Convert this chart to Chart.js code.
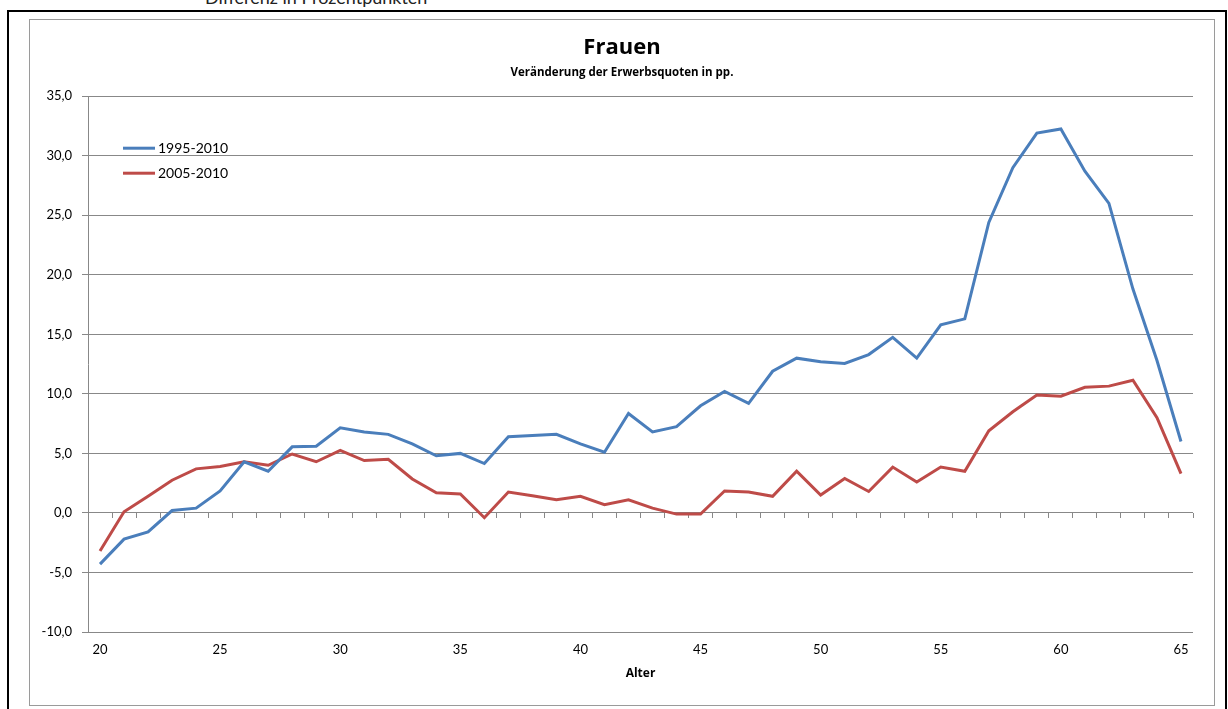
<!DOCTYPE html>
<html>
<head>
<meta charset="utf-8">
<script src="https://cdn.jsdelivr.net/npm/chart.js@4.4.1/dist/chart.umd.min.js"></script>
<style>
  html, body { margin: 0; padding: 0; background: #fff; overflow: hidden; }
  body { width: 1228px; height: 709px; position: relative; font-family: Lato, sans-serif; }
  #kopf { position: absolute; left: 205px; top: -12px; font-size: 18px; line-height: 18px; color: #222; white-space: nowrap; }
  #rahmen { position: absolute; left: 7px; top: 10px; width: 1216px; height: 760px; border: 2px solid #000; }
  #diagrammrahmen { position: absolute; left: 29px; top: 19px; width: 1184px; height: 685px; border: 1px solid #9a9a9a; }
  #box { position: absolute; left: 30px; top: 20px; width: 1184px; height: 685px; }
</style>
</head>
<body>
<div id="kopf">Differenz in Prozentpunkten</div>
<div id="rahmen"></div>
<div id="diagrammrahmen"></div>
<div id="box"><canvas id="chart"></canvas></div>
<script>
// Alter (Kategorien)
const alter = [20, 21, 22, 23, 24, 25, 26, 27, 28, 29, 30, 31, 32, 33, 34, 35,
  36, 37, 38, 39, 40, 41, 42, 43, 44, 45, 46, 47, 48, 49, 50, 51, 52, 53, 54, 55,
  56, 57, 58, 59, 60, 61, 62, 63, 64, 65];

// Veränderung 1995-2010
const werte1995 = [-4.3, -2.2, -1.6, 0.2, 0.4, 1.85, 4.3, 3.5, 5.55, 5.6, 7.15,
  6.8, 6.6, 5.8, 4.8, 5.0, 4.15, 6.4, 6.5, 6.6, 5.8, 5.1, 8.35, 6.8, 7.25, 9.0,
  10.2, 9.2, 11.9, 13.0, 12.7, 12.55, 13.3, 14.75, 13.0, 15.8, 16.3, 24.4, 29.0,
  31.9, 32.25, 28.7, 26.0, 18.8, 12.8, 6.0];

// Veränderung 2005-2010
const werte2005 = [-3.2, 0.1, 1.4, 2.75, 3.7, 3.9, 4.3, 4.0, 4.95, 4.3, 5.25,
  4.4, 4.5, 2.85, 1.7, 1.6, -0.4, 1.75, 1.45, 1.1, 1.4, 0.7, 1.1, 0.4, -0.1, -0.1,
  1.85, 1.75, 1.4, 3.5, 1.5, 2.9, 1.8, 3.85, 2.6, 3.85, 3.5, 6.9, 8.5, 9.9, 9.8,
  10.55, 10.65, 11.15, 8.0, 3.3];

const yMin = -10;
const yMax = 35;
const yStep = 5;

const gitterFarbe = "#888888";
const schrift = "Lato, sans-serif";
const titelSchrift = "'Open Sans', sans-serif";

// Legende innerhalb der Zeichenfläche (wie im Excel-Original)
const innenLegende = {
  id: "innenLegende",
  afterDraw(chart) {
    const ctx = chart.ctx;
    const area = chart.chartArea;
    chart.data.datasets.forEach(function (ds, i) {
      const y = area.top + 52 + i * 25;
      ctx.save();
      ctx.strokeStyle = ds.borderColor;
      ctx.lineWidth = 3;
      ctx.beginPath();
      ctx.moveTo(area.left + 35, y);
      ctx.lineTo(area.left + 67, y);
      ctx.stroke();
      ctx.fillStyle = "#000";
      ctx.font = "14px " + schrift;
      ctx.textBaseline = "middle";
      ctx.fillText(ds.label, area.left + 70, y);
      ctx.restore();
    });
  },
};

new Chart(document.getElementById("chart"), {
  type: "line",
  data: {
    labels: alter,
    datasets: [
      {
        label: "1995-2010",
        data: werte1995,
        borderColor: "#4a7ebb",
        borderWidth: 3,
        pointRadius: 0,
        tension: 0,
        xAxisID: "x",
      },
      {
        label: "2005-2010",
        data: werte2005,
        borderColor: "#be4b48",
        borderWidth: 3,
        pointRadius: 0,
        tension: 0,
        xAxisID: "x",
      },
    ],
  },
  options: {
    responsive: true,
    maintainAspectRatio: false,
    animation: false,
    layout: { padding: 0 },
    plugins: {
      legend: { display: false },
      tooltip: { enabled: false },
      title: {
        display: true,
        text: "Frauen",
        color: "#000",
        font: { family: titelSchrift, size: 22, weight: "bold" },
        padding: { top: 15, bottom: 0 },
      },
      subtitle: {
        display: true,
        text: "Veränderung der Erwerbsquoten in pp.",
        color: "#000",
        font: { family: titelSchrift, size: 11.5, weight: "bold" },
        padding: { top: 4, bottom: 17 },
      },
    },
    scales: {
      x: {
        type: "category",
        position: "bottom",
        offset: true,
        grid: { display: false, drawTicks: false },
        border: { display: false },
        ticks: {
          autoSkip: false,
          maxRotation: 0,
          padding: 10,
          color: "#000",
          font: { family: schrift, size: 13 },
          callback: function (v) {
            const l = this.getLabelForValue(v);
            return l % 5 === 0 ? String(l) : "";
          },
        },
        title: {
          display: true,
          text: "Alter",
          color: "#000",
          font: { family: titelSchrift, size: 12, weight: "bold" },
          padding: { top: 0, bottom: 24 },
        },
        afterFit: function (s) { s.height = 73; },
      },
      // Achse bei 0 mit Teilstrichen zwischen den Kategorien
      x0: {
        type: "category",
        axis: "x",
        position: { y: 0 },
        offset: true,
        grid: { offset: true, drawOnChartArea: false, tickLength: 5, color: gitterFarbe },
        border: { display: false },
        ticks: { display: false, autoSkip: false },
      },
      y: {
        min: yMin,
        max: yMax,
        grid: { color: gitterFarbe, tickLength: 6 },
        border: { color: gitterFarbe },
        ticks: {
          stepSize: yStep,
          padding: 10,
          color: "#000",
          font: { family: schrift, size: 13 },
          callback: function (v) { return v.toFixed(1).replace(".", ","); },
        },
        afterFit: function (s) { s.width = 58; },
      },
      // leerer Rand rechts, damit der Titel über dem ganzen Diagramm zentriert bleibt
      yRand: {
        axis: "y",
        position: "right",
        grid: { display: false, drawTicks: false },
        border: { display: false },
        ticks: { display: false },
        afterFit: function (s) { s.width = 21; },
      },
    },
  },
  plugins: [innenLegende],
});
</script>
</body>
</html>
